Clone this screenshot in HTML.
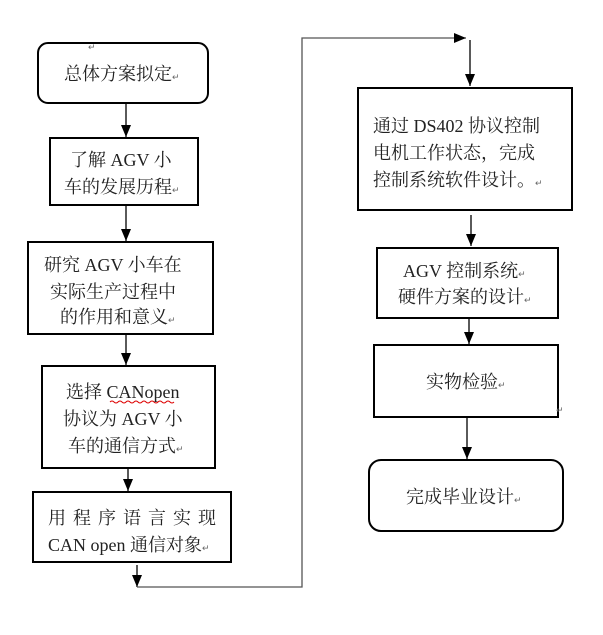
<!DOCTYPE html>
<html><head><meta charset="utf-8"><style>
html,body{margin:0;padding:0;background:#fff;}
svg{display:block;}
text{font-family:"Liberation Serif","Noto Serif CJK SC",serif;font-size:18px;fill:#222;}
.r{font-size:9px;fill:#666;}
</style></head><body>
<svg width="603" height="635" viewBox="0 0 603 635" xmlns="http://www.w3.org/2000/svg">
<defs><marker id="a" markerWidth="12" markerHeight="10" refX="12" refY="5" orient="auto" markerUnits="userSpaceOnUse" viewBox="0 0 12 10"><path d="M0,0 L12,5 L0,10 z" fill="#000"/></marker></defs>
<g fill="none" stroke="#000" stroke-width="2">
<rect x="38" y="43" width="170" height="60" rx="10"/>
<rect x="50" y="138" width="148" height="67"/>
<rect x="28" y="242" width="185" height="92"/>
<rect x="42" y="366" width="173" height="102"/>
<rect x="33" y="492" width="198" height="70"/>
<rect x="358" y="88" width="214" height="122"/>
<rect x="377" y="248" width="181" height="70"/>
<rect x="374" y="345" width="184" height="72"/>
<rect x="369" y="460" width="194" height="71" rx="12"/>
</g>
<g stroke="#000" stroke-width="1.3" fill="none">
<line x1="126" y1="103" x2="126" y2="137" marker-end="url(#a)"/>
<line x1="126" y1="205" x2="126" y2="241" marker-end="url(#a)"/>
<line x1="126" y1="334" x2="126" y2="365" marker-end="url(#a)"/>
<line x1="128" y1="468" x2="128" y2="491" marker-end="url(#a)"/>
<line x1="137" y1="565" x2="137" y2="587" marker-end="url(#a)"/>
<polyline points="137,587 302,587 302,38 466,38" stroke="#555" marker-end="url(#a)"/>
<line x1="470" y1="40" x2="470" y2="86" marker-end="url(#a)"/>
<line x1="471" y1="215" x2="471" y2="246" marker-end="url(#a)"/>
<line x1="469" y1="318" x2="469" y2="344" marker-end="url(#a)"/>
<line x1="467" y1="417" x2="467" y2="459" marker-end="url(#a)"/>
</g>
<text class="r" x="88" y="50">↵</text>
<text x="64" y="80">总体方案拟定<tspan class="r">↵</tspan></text>
<text x="70" y="166">了解 AGV 小</text>
<text x="64" y="193">车的发展历程<tspan class="r">↵</tspan></text>
<text x="44" y="271">研究 AGV 小车在</text>
<text x="50" y="298">实际生产过程中</text>
<text x="60" y="323">的作用和意义<tspan class="r">↵</tspan></text>
<text x="66" y="398">选择 CANopen</text>
<path d="M110,402 q2,-2 4,0 t4,0 t4,0 t4,0 t4,0 t4,0 t4,0 t4,0 t4,0 t4,0 t4,0 t4,0 t4,0 t4,0 t4,0 t4,0" stroke="#d00" fill="none" stroke-width="1"/>
<text x="63" y="425">协议为 AGV 小</text>
<text x="68" y="452">车的通信方式<tspan class="r">↵</tspan></text>
<text x="48" y="524" letter-spacing="7">用程序语言实现</text>
<text x="48" y="551">CAN open 通信对象<tspan class="r">↵</tspan></text>
<text x="373" y="132">通过 DS402 协议控制</text>
<text x="373" y="159">电机工作状态，完成</text>
<text x="373" y="186">控制系统软件设计。<tspan class="r">↵</tspan></text>
<text x="403" y="277">AGV 控制系统<tspan class="r">↵</tspan></text>
<text x="398" y="303">硬件方案的设计<tspan class="r">↵</tspan></text>
<text x="426" y="388">实物检验<tspan class="r">↵</tspan></text>
<text class="r" x="556" y="413">↵</text>
<text x="406" y="503">完成毕业设计<tspan class="r">↵</tspan></text>
</svg>
</body></html>
